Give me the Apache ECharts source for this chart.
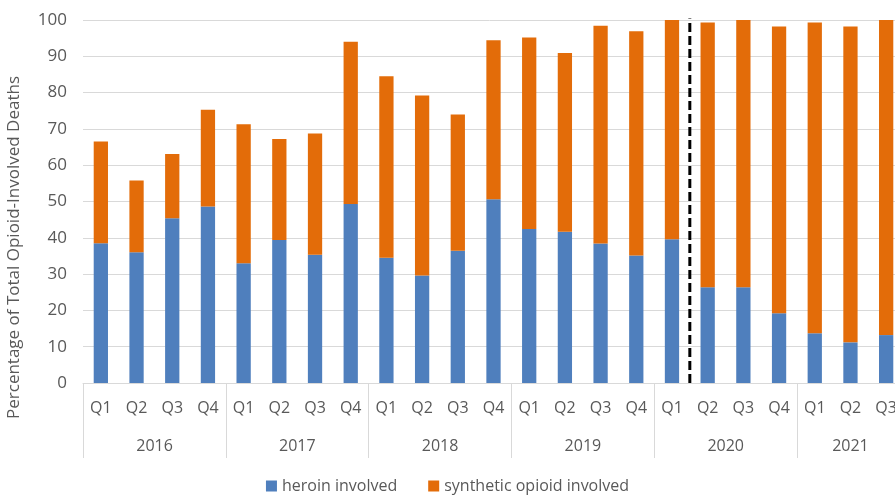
<!DOCTYPE html>
<html>
<head>
<meta charset="utf-8">
<script src="https://cdn.jsdelivr.net/npm/echarts@6/dist/echarts.min.js"></script>
<style>html,body{margin:0;padding:0;background:#fff}#c{width:895px;height:495px}</style>
</head>
<body>
<div id="c"></div>
<script>
const years = ['2016','2017','2018','2019','2020','2021'];
const quarterLabels = ['Q1','Q2','Q3','Q4','Q1','Q2','Q3','Q4','Q1','Q2','Q3','Q4','Q1','Q2','Q3','Q4','Q1','Q2','Q3','Q4','Q1','Q2','Q3'];
const yearOfBar = ['2016','2016','2016','2016','2017','2017','2017','2017','2018','2018','2018','2018','2019','2019','2019','2019','2020','2020','2020','2020','2021','2021','2021'];
const heroin = [38.5,36.0,45.4,48.6, 33.0,39.4,35.3,49.3, 34.5,29.6,36.4,50.6, 42.4,41.7,38.4,35.1, 39.6,26.4,26.4,19.2, 13.7,11.2,13.2];
const synthetic = [28.0,19.8,17.7,26.7, 38.3,27.8,33.4,44.7, 50.0,49.6,37.6,43.8, 52.8,49.2,60.0,61.8, 60.4,72.9,73.6,79.0, 85.6,87.0,86.8];
const yTicks = {min: 0, max: 100, interval: 10};
const dividerAfterIndex = 16; // boundary after 2020 Q1
const dividerTop = 101.2;

const FONT = 'Open Sans';
const TXT = '#595959';
const GRID = '#d9d9d9';

const quartersPerYear = {};
yearOfBar.forEach(y => quartersPerYear[y] = (quartersPerYear[y] || 0) + 1);
const yearStart = yearOfBar.map((y, i) => i === 0 || yearOfBar[i - 1] !== y);

const chart = echarts.init(document.getElementById('c'), null, {renderer: 'canvas'});
chart.setOption({
  animation: false,
  textStyle: {fontFamily: FONT},
  grid: {left: 83, top: 20, width: 821, height: 363, containLabel: false, outerBoundsMode: 'none'},
  legend: {
    data: ['heroin involved', 'synthetic opioid involved'],
    top: 473, left: 'center',
    itemWidth: 11, itemHeight: 11, itemGap: 31,
    icon: 'rect',
    textStyle: {fontFamily: FONT, fontSize: 16, color: TXT}
  },
  graphic: [{
    type: 'text', left: 6, top: 'middle', 
    style: {text: 'Percentage of Total Opioid-Involved Deaths', fontFamily: FONT, fontSize: 17, fill: TXT},
    rotation: Math.PI / 2, x: 8, y: 0
  }],
  xAxis: [
    {
      type: 'category', data: quarterLabels, gridIndex: 0,
      axisLine: {show: true, lineStyle: {color: GRID, width: 1}},
      axisTick: {show: false},
      axisLabel: {color: TXT, fontSize: 16, margin: 17, interval: 0, fontFamily: FONT}
    },
    {
      type: 'category', data: yearOfBar, gridIndex: 0, position: 'bottom',
      axisLine: {show: false},
      axisTick: {show: true, length: 75, lineStyle: {color: GRID, width: 1},
        interval: (i) => yearStart[i]},
      axisLabel: {
        color: TXT, fontSize: 16, margin: 55, fontFamily: FONT,
        interval: (i) => {
          const y = yearOfBar[i];
          const first = yearOfBar.indexOf(y);
          return i === first + Math.floor((quartersPerYear[y] - 1) / 2);
        },
        formatter: (v) => quartersPerYear[v] % 2 === 0 ? '{e|' + v + '}' : '{o|' + v + '}',
        rich: {
          e: {padding: [0, 0, 0, 36], color: TXT, fontSize: 16, fontFamily: FONT},
          o: {color: TXT, fontSize: 16, fontFamily: FONT}
        }
      }
    },
    {
      type: 'value', gridIndex: 0, show: false, min: -0.5, max: quarterLabels.length - 0.5
    }
  ],
  yAxis: {
    type: 'value', min: yTicks.min, max: yTicks.max, interval: yTicks.interval,
    axisLine: {show: false}, axisTick: {show: false},
    axisLabel: {color: TXT, fontSize: 17, margin: 16, fontFamily: FONT},
    splitLine: {lineStyle: {color: GRID, width: 1}}
  },
  series: [
    {name: 'heroin involved', type: 'bar', stack: 'total', data: heroin, barWidth: '40%',
     itemStyle: {color: '#4f7fbd'}, xAxisIndex: 0},
    {name: 'synthetic opioid involved', type: 'bar', stack: 'total', data: synthetic, barWidth: '40%',
     itemStyle: {color: '#e36c09'}, xAxisIndex: 0},
    {name: 'divider', type: 'line', xAxisIndex: 2, yAxisIndex: 0, silent: true,
     symbol: 'none',
     data: [[dividerAfterIndex + 0.5, yTicks.min], [dividerAfterIndex + 0.5, dividerTop]],
     lineStyle: {color: '#000', width: 3, type: [9, 4]}}
  ]
});
</script>
</body>
</html>
